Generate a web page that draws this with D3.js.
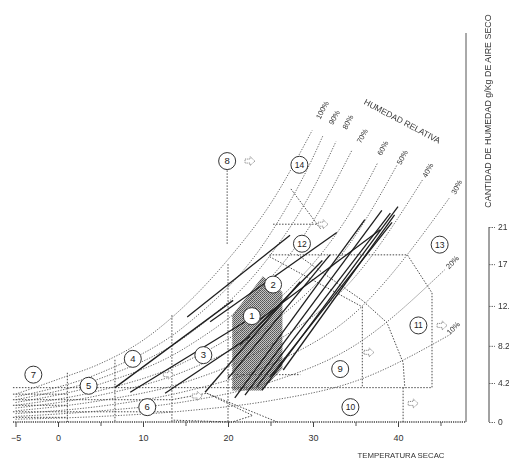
<!DOCTYPE html>
<html><head><meta charset="utf-8">
<script src="https://cdn.jsdelivr.net/npm/d3@7"></script>
<style>body{margin:0;background:#fff}svg{display:block;font-family:"Liberation Sans",Arial,sans-serif}</style>
</head><body><svg id="c" width="509" height="461"></svg>
<script>
// ---- data ----
const xTicks = [-5, 0, 10, 20, 30, 40];
const xMinor = [5, 15, 25, 35, 45];
const rightTicks = [0, 4.2, 8.2, 12.5, 17, 21];
const rightTickLabels = ["0", "4.2", "8.2", "12.", "17", "21"];
const rhLevels = ["100%","90%","80%","70%","60%","50%","40%","30%","20%","10%"];
const rh100 = [[-5,3.0],[0,4.6],[5,6.3],[10,8.8],[15,12.6],[20,17.5],[25,23.5],[29.9,31.4]];
const rh90  = [[-5,2.7],[5,5.3],[15,10.4],[25,20.3],[30,28.5],[31.2,30.9]];
const rh80  = [[-5,2.4],[5,4.7],[15,9.2],[25,18.0],[30,25.1],[32.7,30.2]];
const rh70  = [[-5,2.1],[5,4.1],[15,8.0],[25,15.5],[30,21.6],[34.6,29.3]];
const rh60  = [[-5,1.8],[5,3.4],[15,6.5],[25,12.4],[35,23.5],[37.6,27.9]];
const rh50  = [[-5,1.5],[5,2.9],[15,5.5],[25,10.5],[35,20.1],[39.9,27.7]];
const rh40  = [[-5,1.2],[5,2.3],[15,4.3],[25,8.3],[35,15.7],[42.9,26.1]];
const rh30  = [[-5,0.9],[5,1.7],[15,3.3],[25,6.2],[35,11.8],[46.1,24.2]];
const rh20  = [[-5,0.6],[5,1.2],[15,2.2],[25,4.3],[35,8.3],[45.5,16.4]];
const rh10  = [[-5,0.3],[5,0.6],[15,1.2],[25,2.3],[35,4.4],[46.1,9.4]];
const rhCurves = [rh100,rh90,rh80,rh70,rh60,rh50,rh40,rh30,rh20,rh10];
const rhLabelAt = [[31.1,33.6],[32.5,32.8],[34.1,32.3],[35.8,30.8],[38.2,29.5],[40.5,28.5],[43.5,27.1],[46.9,25.3],[46.4,17.2],[46.5,10.1]];

// climate lines (temperature, g/kg) start -> end
const climateLines = [
 [[6.7,3.7],[20.6,13.1]],[[8.5,3.2],[22.0,10.8]],[[12.6,3.1],[22.6,9.2]],
 [[15.2,11.3],[27.3,20.1]],[[17.3,3.2],[28.5,15.1]],[[17.9,10.8],[32.8,20.4]],
 [[20.8,2.6],[36.1,21.8]],[[22.0,2.9],[38.1,22.8]],[[23.4,3.8],[39.1,22.5]],
 [[24.0,3.4],[40.0,23.2]],[[24.9,4.8],[39.3,21.5]],[[20.0,4.7],[32.0,18.0]],
 [[23.4,10.8],[37.9,20.7]],[[26.5,5.6],[39.6,22.3]],[[21.4,8.3],[31.1,17.4]]
];
// comfort zone (shaded)
const comfortZone = [[20.5,11.5],[24.1,15.7],[26.4,14.0],[26.4,5.8],[24,3.4],[20.5,3.4]];
// zone boundaries
const zoneLines = [
 [[19.9,27.1],[19.9,19.1]],
 [[20,17],[20,0]],
 [[13.4,11.5],[13.4,0]],
 [[6.7,6.7],[6.7,0]],
 [[1.1,5.3],[1.1,0]],
 [[24.9,18.0],[41.1,18.0],[44,13.9],[44,3.7],[20,3.7]],
 [[35.8,12.4],[35.8,3.7]],
 [[32.8,15.0],[35.8,13.1],[38.7,10.7],[40.6,6.4],[40.8,3.7]],
 [[24.9,17.8],[35.8,12.4]],
 [[28.2,18.0],[32.8,15.0]],
 [[40.6,3.7],[40.6,0]],
 [[17.5,3.1],[25.8,0]],
 [[13.4,2.4],[17.5,3.1],[22.9,0.7],[20.5,0],[13.4,0.2]],
 [[27.4,25.1],[30.9,20.8]],
 [[25.3,21.3],[30.9,21.3]],
 [[20,5.1],[28.5,5.1]],
 [[-5.3,3.7],[20,3.7]],
 [[-5.3,2.4],[13.4,2.4]],
 [[-5.3,1.1],[13.4,1.1]],
 [[-5.3,3.0],[1.1,3.0]],[[-5.3,1.8],[1.1,1.8]],[[-5.3,0.5],[1.1,0.5]]
];
const zoneIds = ["1","2","3","4","5","6","7","8","9","10","11","12","13","14"];
const zoneLabelAt = [[22.8,11.4],[25.3,14.8],[17.1,7.2],[8.8,6.8],[3.6,3.9],[10.5,1.6],[-2.9,5.1],[19.9,28.1],[33.2,5.7],[34.4,1.6],[42.4,10.4],[28.7,19.2],[44.9,19.1],[28.4,27.7]];
const arrowsAt = [[22.0,28.1],[30.6,21.3],[36.0,7.5],[44.6,10.4],[41.2,2.0],[12.4,5.1],[15.8,2.8]];

// ---- drawing ----
const svg = d3.select("#c");
const x = d3.scaleLinear().domain([-5,45]).range([15.5,440.5]);
const y = d3.scaleLinear().domain([0,21]).range([422,227]);
const line = d3.line().x(d=>x(d[0])).y(d=>y(d[1]));
const curve = d3.line().x(d=>x(d[0])).y(d=>y(d[1])).curve(d3.curveMonotoneX);

const defs = svg.append("defs");
const pat = defs.append("pattern").attr("id","stip").attr("width",2).attr("height",2).attr("patternUnits","userSpaceOnUse");
pat.append("rect").attr("width",2).attr("height",2).attr("fill","#c4c4c4");
pat.append("rect").attr("width",1).attr("height",1).attr("fill","#555");
pat.append("rect").attr("x",1).attr("y",1).attr("width",1).attr("height",1).attr("fill","#666");

// shaded comfort zone
svg.append("path").attr("d", line(comfortZone)+"Z").attr("fill","url(#stip)").attr("stroke","none");

// RH curves
svg.append("g").selectAll("path").data(rhCurves).join("path")
  .attr("d", curve).attr("fill","none").attr("stroke","#5a5a5a")
  .attr("stroke-width",0.9).attr("stroke-dasharray","1.3,1.4");

// zone boundaries
svg.append("g").selectAll("path").data(zoneLines).join("path")
  .attr("d", line).attr("fill","none").attr("stroke","#4a4a4a")
  .attr("stroke-width",1).attr("stroke-dasharray","1.5,1.5");

// climate lines
svg.append("g").selectAll("path").data(climateLines).join("path")
  .attr("d", line).attr("fill","none").attr("stroke","#1e1e1e").attr("stroke-width",1.3);

// arrows
svg.append("g").selectAll("path").data(arrowsAt).join("path")
  .attr("transform", d=>`translate(${x(d[0])},${y(d[1])})`)
  .attr("d","M0,-2L5,-2L5,-4.5L10,0L5,4.5L5,2L0,2Z")
  .attr("fill","#fff").attr("stroke","#666").attr("stroke-width",0.8).attr("stroke-dasharray","1,0.8");

// zone circles
const zg = svg.append("g").selectAll("g").data(zoneIds).join("g")
  .attr("transform",(d,i)=>`translate(${x(zoneLabelAt[i][0])},${y(zoneLabelAt[i][1])})`);
zg.append("circle").attr("r",8.5).attr("fill","#fff").attr("stroke","#333").attr("stroke-width",1);
zg.append("text").text(d=>d).attr("text-anchor","middle").attr("dy","0.35em")
  .attr("font-size",d=>d.length>1?8.5:9.5).attr("fill","#222");

// RH labels
const lg = svg.append("g").attr("opacity",0.99);
lg.selectAll("text").data(rhLevels).join("text")
  .attr("transform",(d,i)=>`translate(${x(rhLabelAt[i][0])},${y(rhLabelAt[i][1])}) rotate(${i>=8?-45:-62})`)
  .attr("text-anchor","middle").attr("dy","0.35em").attr("font-size",7.5).attr("fill","#333").text(d=>d);
lg.append("text").attr("transform",`translate(${x(40.5)},${y(32.4)}) rotate(28)`)
  .attr("text-anchor","middle").attr("dy","0.35em").attr("font-size",8.5).attr("fill","#333").text("HUMEDAD RELATIVA");

// bottom axis
svg.append("line").attr("x1",13).attr("x2",466).attr("y1",422).attr("y2",422)
  .attr("stroke","#444").attr("stroke-width",1.3).attr("stroke-dasharray","1.2,1");
const xa = svg.append("g").attr("transform","translate(0,422)")
  .call(d3.axisBottom(x).tickValues(xTicks).tickSize(5).tickPadding(8).tickFormat(d3.format("d")));
xa.select(".domain").remove();
xa.selectAll("line").attr("stroke","#444");
xa.selectAll("text").attr("font-size",9).attr("fill","#333").attr("font-family","Liberation Sans, Arial");
svg.append("g").attr("transform","translate(0,422)")
  .call(d3.axisBottom(x).tickValues(xMinor).tickSize(4).tickFormat(""))
  .call(g=>g.select(".domain").remove()).selectAll("line").attr("stroke","#555");
svg.append("text").attr("x",401).attr("y",458).attr("text-anchor","middle")
  .attr("font-size",7.8).attr("fill","#333").text("TEMPERATURA SECAC");

// right frame
svg.append("line").attr("x1",466).attr("x2",466).attr("y1",33).attr("y2",422).attr("stroke","#555").attr("stroke-width",1);

// right axis
const ra = svg.append("g").attr("transform","translate(489,0)")
  .call(d3.axisRight(y).tickValues(rightTicks).tickSize(6).tickPadding(3).tickFormat((d,i)=>rightTickLabels[i]));
ra.select(".domain").attr("stroke","#444").attr("d",`M0,${y(21)}V${y(0)}`);
ra.selectAll("line").attr("stroke","#666").attr("stroke-dasharray","1.5,1");
ra.selectAll("text").attr("font-size",8.5).attr("fill","#333").attr("font-family","Liberation Sans, Arial");
svg.append("text").attr("transform","translate(491,111) rotate(-90)").attr("text-anchor","middle")
  .attr("font-size",8.9).attr("fill","#333").text("CANTIDAD DE HUMEDAD g/Kg DE AIRE SECO");
</script></body></html>
